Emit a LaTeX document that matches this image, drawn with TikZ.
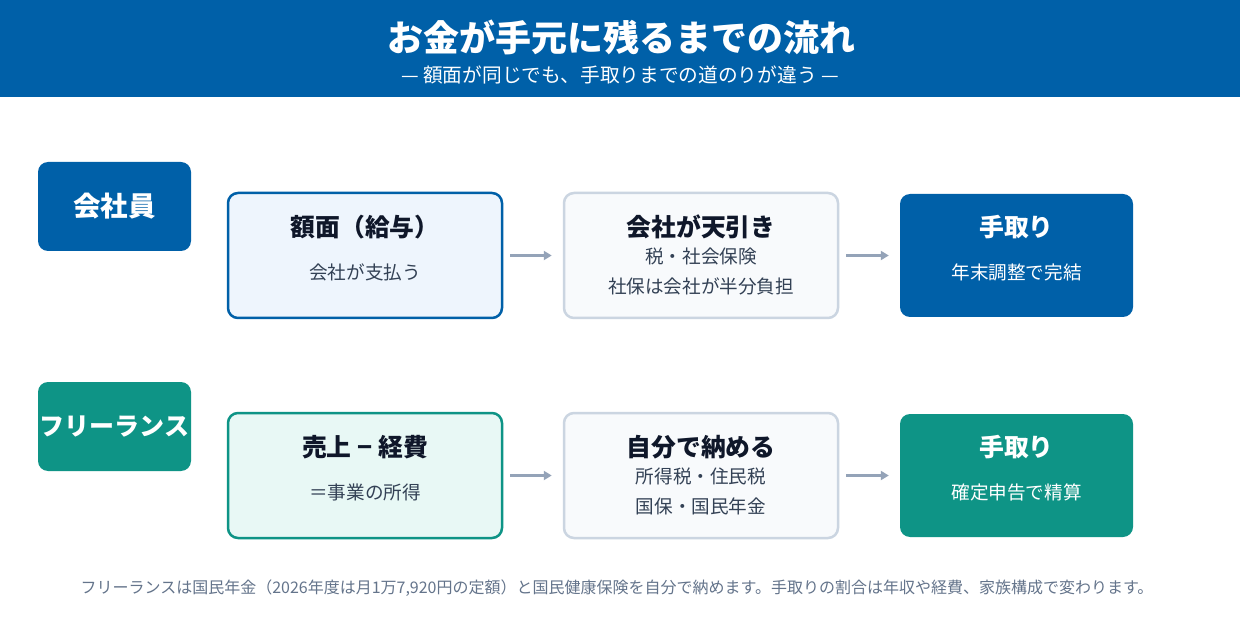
\documentclass[tikz,border=0pt]{standalone}
\usepackage{fontspec}
\setmainfont{Noto Sans CJK JP}
\usetikzlibrary{arrows.meta}
\definecolor{hblue}{HTML}{0060A8}
\definecolor{hteal}{HTML}{0E9486}
\definecolor{ink}{HTML}{0F172A}
\definecolor{subink}{HTML}{334155}
\definecolor{note}{HTML}{64748B}
\definecolor{arr}{HTML}{94A3B8}
\definecolor{lblue}{HTML}{EEF5FD}
\definecolor{lteal}{HTML}{E8F8F5}
\definecolor{lgray}{HTML}{F8FAFC}
\definecolor{gborder}{HTML}{CBD5E1}
\tikzset{
  fs/.style={font=\fontsize{#1}{#1}\selectfont},
  fsb/.style={font=\fontsize{#1}{#1}\selectfont\bfseries},
  lbl/.style={rounded corners=10pt, minimum width=153pt, minimum height=89pt, inner sep=0pt, text=white, fsb=27.5},
  card/.style={rounded corners=10pt, minimum width=274pt, minimum height=125pt, inner sep=0pt, line width=2.5pt},
  endcard/.style={rounded corners=10pt, minimum width=233pt, minimum height=123pt, inner sep=0pt},
  ttl/.style={inner sep=0pt, fsb=24.8, text=ink},
  sub/.style={inner sep=0pt, fs=18.6, text=subink},
  flow/.style={draw=arr, line width=3pt, -{Triangle[length=8pt,width=9pt]}, shorten <=7pt, shorten >=11pt},
}
\begin{document}
\begin{tikzpicture}[x=1pt,y=-1pt]
\useasboundingbox (0,0) rectangle (1240,620);
\fill[white] (0,0) rectangle (1240,620);
% header
\fill[hblue] (0,0) rectangle (1240,97);
\node[inner sep=0pt, text=white, fsb=36] (title) at (621,37) {お金が手元に残るまでの流れ};
\node[inner sep=0pt, text=white, fs=19.7] (subtitle) at (620,75) {— 額面が同じでも、手取りまでの道のりが違う —};
% row labels
\node[lbl, fill=hblue] (emp) at (114.5,206.5) {会社員};
\node[lbl, fill=hteal, fsb=25] (free) at (114.5,426.5) {フリーランス};
% row 1
\node[card, draw=hblue, fill=lblue] (a1) at (365,255.5) {};
\node[ttl] (a1t) at (365,227) {額面（給与）};
\node[sub] (a1s) at (365,272) {会社が支払う};
\node[card, draw=gborder, fill=lgray] (b1) at (701,255.5) {};
\node[ttl] (b1t) at (701,227) {会社が天引き};
\node[sub] (b1s) at (701,256) {税・社会保険};
\node[sub] (b1u) at (701,286) {社保は会社が半分負担};
\node[endcard, fill=hblue] (c1) at (1016.5,255.5) {};
\node[ttl, text=white] (c1t) at (1016.5,227) {手取り};
\node[sub, text=white] (c1s) at (1016.5,272) {年末調整で完結};
\draw[flow] (a1.east) -- (b1.west);
\draw[flow] (b1.east) -- (c1.west);
% row 2
\node[card, draw=hteal, fill=lteal] (a2) at (365,475.5) {};
\node[ttl] (a2t) at (365,447) {売上 − 経費};
\node[sub] (a2s) at (365,492) {＝事業の所得};
\node[card, draw=gborder, fill=lgray] (b2) at (701,475.5) {};
\node[ttl] (b2t) at (701,447) {自分で納める};
\node[sub] (b2s) at (701,476) {所得税・住民税};
\node[sub] (b2u) at (701,506) {国保・国民年金};
\node[endcard, fill=hteal] (c2) at (1016.5,475.5) {};
\node[ttl, text=white] (c2t) at (1016.5,447) {手取り};
\node[sub, text=white] (c2s) at (1016.5,492) {確定申告で精算};
\draw[flow] (a2.east) -- (b2.west);
\draw[flow] (b2.east) -- (c2.west);
% footer
\node[inner sep=0pt, text=note, fs=16] (foot) at (617,588) {フリーランスは国民年金（2026年度は月1万7,920円の定額）と国民健康保険を自分で納めます。手取りの割合は年収や経費、家族構成で変わります。};
\end{tikzpicture}
\end{document}
